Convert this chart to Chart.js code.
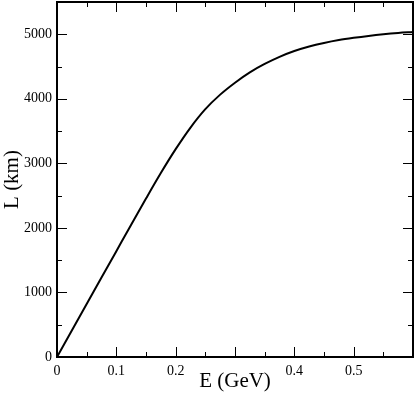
<!DOCTYPE html>
<html>
<head>
<meta charset="utf-8">
<script src="https://cdn.jsdelivr.net/npm/chart.js@4.4.0/dist/chart.umd.min.js"></script>
<style>
  html, body { margin: 0; padding: 0; background: #fff; }
  #wrap { width: 415px; height: 397px; }
</style>
</head>
<body>
<div id="wrap"><canvas id="myChart" width="415" height="397"></canvas></div>
<script>
// values
const energies = [0, 0.025, 0.05, 0.075, 0.1, 0.125, 0.15, 0.175, 0.2, 0.225, 0.25,
  0.275, 0.3, 0.325, 0.35, 0.375, 0.4, 0.425, 0.45, 0.475, 0.5, 0.525, 0.55, 0.575, 0.6];
const lengths = [0, 410, 820, 1230, 1640, 2050, 2455, 2850, 3220, 3555, 3840,
  4065, 4250, 4410, 4540, 4650, 4740, 4810, 4865, 4910, 4945, 4975, 5000, 5020, 5035];
const xTicks = [0, 0.1, 0.2, 0.3, 0.4, 0.5];
const xLabels = ["0", "0.1", "0.2", "", "0.4", "0.5"]; // 0.3 sits under the axis title
const yTicks = [0, 1000, 2000, 3000, 4000, 5000];
const yLabels = ["0", "1000", "2000", "3000", "4000", "5000"];
const xMinor = [0.05, 0.15, 0.25, 0.35, 0.45, 0.55];
const yMinor = [500, 1500, 2500, 3500, 4500];

const points = energies.map((e, i) => ({ x: e, y: lengths[i] }));

// frame with inward ticks on all four sides
const frame = {
  id: "frame",
  afterDatasetsDraw(chart) {
    const ctx = chart.ctx;
    const a = chart.chartArea;
    const xs = chart.scales.x;
    const ys = chart.scales.y;
    ctx.save();
    ctx.strokeStyle = "#000";
    ctx.lineWidth = 1;
    function tick(x1, y1, x2, y2) {
      ctx.beginPath();
      ctx.moveTo(x1, y1);
      ctx.lineTo(x2, y2);
      ctx.stroke();
    }
    xTicks.forEach(v => {
      const p = Math.round(xs.getPixelForValue(v)) + 0.5;
      tick(p, a.bottom, p, a.bottom - 10);
      tick(p, a.top, p, a.top + 10);
    });
    xMinor.forEach(v => {
      const p = Math.round(xs.getPixelForValue(v)) + 0.5;
      tick(p, a.bottom, p, a.bottom - 5);
      tick(p, a.top, p, a.top + 5);
    });
    yTicks.forEach(v => {
      const p = Math.round(ys.getPixelForValue(v)) + 0.5;
      tick(a.left, p, a.left + 10, p);
      tick(a.right, p, a.right - 10, p);
    });
    yMinor.forEach(v => {
      const p = Math.round(ys.getPixelForValue(v)) + 0.5;
      tick(a.left, p, a.left + 5, p);
      tick(a.right, p, a.right - 5, p);
    });
    ctx.lineWidth = 2;
    ctx.strokeRect(a.left, a.top, a.right - a.left, a.bottom - a.top);
    ctx.restore();
  }
};

const serif = "'Liberation Serif', 'Times New Roman', serif";

new Chart(document.getElementById("myChart"), {
  type: "line",
  data: {
    datasets: [{
      data: points,
      borderColor: "#000",
      borderWidth: 2,
      pointRadius: 0,
      cubicInterpolationMode: "monotone",
      fill: false
    }]
  },
  options: {
    responsive: false,
    animation: false,
    layout: { padding: { top: 2, right: 2, left: 0, bottom: 0 } },
    plugins: { legend: { display: false }, tooltip: { enabled: false } },
    scales: {
      x: {
        type: "linear",
        min: 0,
        max: 0.6,
        grid: { display: false, drawTicks: false },
        border: { display: false },
        afterBuildTicks: s => { s.ticks = xTicks.map(v => ({ value: v })); },
        afterFit: s => { s.height = 40; s.paddingLeft = 0; s.paddingRight = 0; },
        ticks: {
          padding: 6,
          color: "#000",
          font: { family: serif, size: 14 },
          maxRotation: 0,
          autoSkip: false,
          callback: (v, i) => xLabels[i]
        },
        title: {
          display: true,
          text: "E (GeV)",
          color: "#000",
          font: { family: serif, size: 21 },
          padding: { top: 0, bottom: 3 }
        }
      },
      y: {
        type: "linear",
        min: 0,
        max: 5500,
        grid: { display: false, drawTicks: false },
        border: { display: false },
        afterBuildTicks: s => { s.ticks = yTicks.map(v => ({ value: v })); },
        afterFit: s => { s.width = 57; s.paddingTop = 0; s.paddingBottom = 0; },
        ticks: {
          padding: 5,
          color: "#000",
          font: { family: serif, size: 14 },
          autoSkip: false,
          callback: (v, i) => yLabels[i]
        },
        title: {
          display: true,
          text: "L (km)",
          color: "#000",
          font: { family: serif, size: 21 },
          padding: { top: 0, bottom: 0 }
        }
      }
    }
  },
  plugins: [frame]
});
</script>
</body>
</html>
